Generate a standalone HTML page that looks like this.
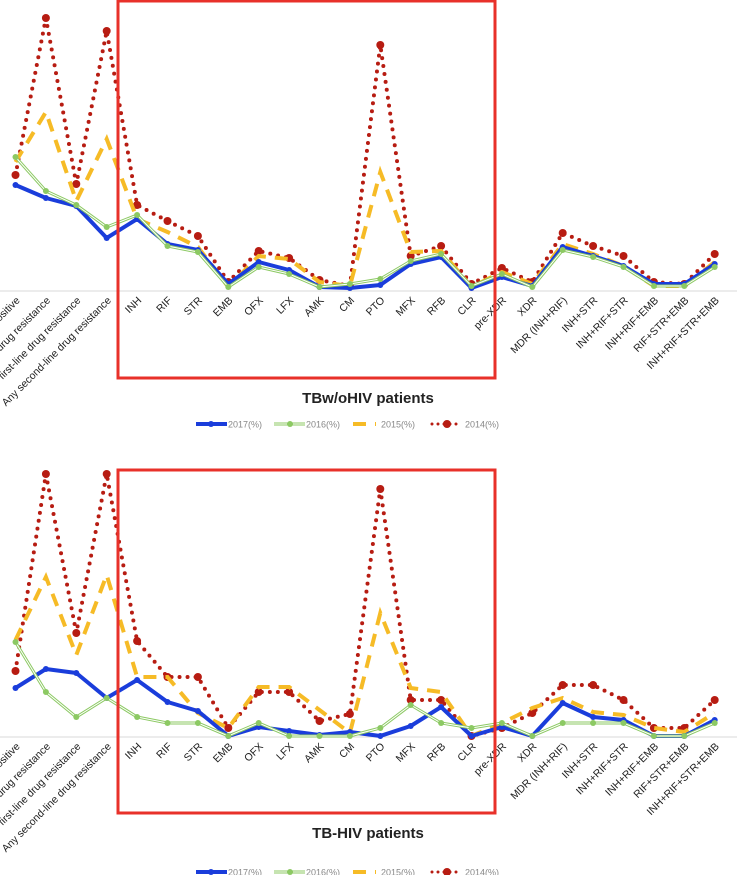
<!DOCTYPE html>
<html><head><meta charset="utf-8"><style>
body{margin:0;background:#fff;}
svg{display:block;font-family:"Liberation Sans",sans-serif;}
</style></head><body>
<svg id="svg" width="737" height="875" viewBox="0 0 737 875"></svg>
<script>
const categories=["Any drug resistance positive","Any drug resistance","Any first-line drug resistance","Any second-line drug resistance","INH","RIF","STR","EMB","OFX","LFX","AMK","CM","PTO","MFX","RFB","CLR","pre-XDR","XDR","MDR (INH+RIF)","INH+STR","INH+RIF+STR","INH+RIF+EMB","RIF+STR+EMB","INH+RIF+STR+EMB"];
const labelText=["Positive","Any drug resistance","Any first-line drug resistance","Any second-line drug resistance","INH","RIF","STR","EMB","OFX","LFX","AMK","CM","PTO","MFX","RFB","CLR","pre-XDR","XDR","MDR (INH+RIF)","INH+STR","INH+RIF+STR","INH+RIF+EMB","RIF+STR+EMB","INH+RIF+STR+EMB"];
const seriesNames=["2017(%)","2016(%)","2015(%)","2014(%)"];
const top2017=[10.5,9.2,8.4,5.2,7.1,4.6,4.0,0.6,2.8,2.0,0.3,0.2,0.5,2.6,3.3,0.2,1.3,0.4,4.3,3.4,2.4,0.6,0.6,2.6];
const top2016=[13.3,9.9,8.5,6.3,7.5,4.4,3.8,0.3,2.3,1.6,0.3,0.6,1.1,2.9,3.6,0.4,1.6,0.3,4.0,3.3,2.3,0.4,0.4,2.3];
const top2015=[12.8,17.8,8.9,15.1,7.1,5.8,4.3,0.3,3.4,3.1,0.8,0.4,11.8,3.8,3.9,0.3,1.8,0.6,4.6,3.6,2.4,0.4,0.4,2.8];
const top2014=[11.5,27.2,10.6,25.9,8.5,6.9,5.4,0.8,3.9,3.2,1.0,0.4,24.5,3.4,4.4,0.6,2.2,0.8,5.7,4.4,3.4,0.8,0.6,3.6];
const bot2017=[4.8,6.7,6.3,3.8,5.6,3.4,2.5,0,0.9,0.5,0.1,0.4,0,1.0,2.9,0,0.9,0,3.3,1.9,1.6,0,0,1.6];
const bot2016=[9.4,4.4,1.9,3.8,1.9,1.3,1.3,0,1.3,0,0,0,0.8,3.1,1.3,0.8,1.3,0,1.3,1.3,1.3,0,0,1.3];
const bot2015=[9.6,15.9,8.1,16.1,5.9,5.9,2.3,0.8,4.9,4.9,2.6,0.3,12.3,4.8,4.4,0,1.3,2.8,3.8,2.4,2.1,0.8,0.4,2.3];
const bot2014=[6.5,26.2,10.3,26.2,9.5,5.9,5.9,0.8,4.4,4.4,1.5,2.2,24.7,3.6,3.6,0,0.8,2.3,5.1,5.1,3.6,0.8,0.8,3.6];

const NS="http://www.w3.org/2000/svg";
const svg=document.getElementById('svg');
function mk(tag,attrs,parent){const e=document.createElementNS(NS,tag);for(const k in attrs)e.setAttribute(k,attrs[k]);(parent||svg).appendChild(e);return e;}
function xPos(i){return 15.5+i*30.4;}

function drawChart(base,prefix,s17,s16,s15,s14,title,legendY,box){
  const g=mk('g',{});
  
  
  const yPos=v=>base-v*10;
  const ax=mk('line',{x1:0,x2:737,y1:base+1,y2:base+1,stroke:'#d9d9d9','stroke-width':1},g);
  
  
  labelText.forEach((t,i)=>{
    const x=xPos(i)+5,y=base+11;
    const tx=mk('text',{x:x,y:y,'font-size':10.5,fill:'#222','text-anchor':'end',transform:`rotate(-45 ${x} ${y})`},g);
    tx.textContent=t;
    
    
  });
  const pts=arr=>arr.map((v,i)=>xPos(i)+','+yPos(v)).join(' ');
  const l14=mk('polyline',{points:pts(s14),fill:'none',stroke:'#b71c12','stroke-width':4,'stroke-dasharray':'0,8','stroke-linecap':'round'},g);
  
  
  s14.forEach((v,i)=>{const c=mk('circle',{cx:xPos(i),cy:yPos(v),r:4,fill:'#b71c12'},g);});
  const l15=mk('polyline',{points:pts(s15),fill:'none',stroke:'#f6bb26','stroke-width':4,'stroke-dasharray':'13,9'},g);
  
  
  const l17=mk('polyline',{points:pts(s17),fill:'none',stroke:'#1a3ddb','stroke-width':4,'stroke-linejoin':'round'},g);
  
  
  s17.forEach((v,i)=>{const c=mk('circle',{cx:xPos(i),cy:yPos(v),r:3,fill:'#1a3ddb'},g);});
  const l16=mk('polyline',{points:pts(s16),fill:'none',stroke:'#8cc963','stroke-width':3},g);
  
  
  mk('polyline',{points:pts(s16),fill:'none',stroke:'#fff','stroke-width':1},g);
  s16.forEach((v,i)=>{const c=mk('circle',{cx:xPos(i),cy:yPos(v),r:3,fill:'#8cc963'},g);});
  const r=mk('rect',{x:box[0],y:box[1],width:box[2]-box[0],height:box[3]-box[1],fill:'none',stroke:'#e8312a','stroke-width':3},g);
  
  
  const tt=mk('text',{x:368,y:box[3]+25,'font-size':15,'font-weight':'bold',fill:'#222','text-anchor':'middle'},g);
  tt.textContent=title;
  
  
  const ly=legendY;
  const lg=mk('g',{},g);
  
  
  mk('line',{x1:196,x2:227,y1:ly,y2:ly,stroke:'#1a3ddb','stroke-width':4},lg);
  mk('circle',{cx:211,cy:ly,r:3,fill:'#1a3ddb'},lg);
  mk('line',{x1:274,x2:305,y1:ly,y2:ly,stroke:'#8cc963','stroke-width':3},lg);
  mk('line',{x1:274,x2:305,y1:ly,y2:ly,stroke:'#fff','stroke-width':1},lg);
  mk('circle',{cx:290,cy:ly,r:3,fill:'#8cc963'},lg);
  mk('line',{x1:353,x2:376,y1:ly,y2:ly,stroke:'#f6bb26','stroke-width':4,'stroke-dasharray':'13,9'},lg);
  mk('line',{x1:432,x2:460,y1:ly,y2:ly,stroke:'#b71c12','stroke-width':3,'stroke-dasharray':'0,6','stroke-linecap':'round'},lg);
  mk('circle',{cx:447,cy:ly,r:4,fill:'#b71c12'},lg);
  [[228,0],[306,1],[381,2],[465,3]].forEach(([x,k])=>{
    const t=mk('text',{x:x,y:ly+3.5,'font-size':9,fill:'#888'},lg);
    t.textContent=seriesNames[k];
    
    
  });
}
drawChart(290,'tbwohiv',top2017,top2016,top2015,top2014,'TBw/oHIV patients',424,[118,1,495,378]);
drawChart(736,'tbhiv',bot2017,bot2016,bot2015,bot2014,'TB-HIV patients',872,[118,470,495,813]);
</script>
</body></html>
